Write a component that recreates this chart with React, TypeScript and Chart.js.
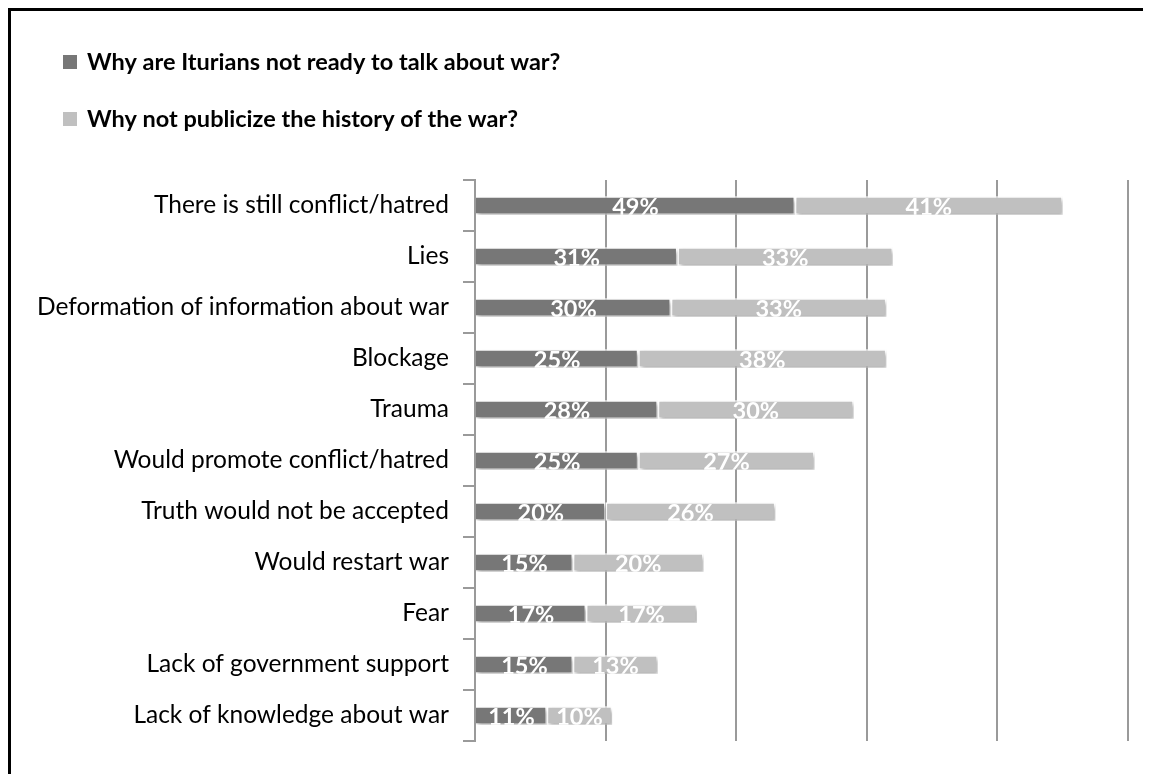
import React, { useEffect, useRef } from "react";
import { Chart, registerables } from "chart.js";

Chart.register(...registerables);

const categories = [
  "There is still conflict/hatred",
  "Lies",
  "Deformation of information about war",
  "Blockage",
  "Trauma",
  "Would promote conflict/hatred",
  "Truth would not be accepted",
  "Would restart war",
  "Fear",
  "Lack of government support",
  "Lack of knowledge about war",
];
const notReadyValues = [49, 31, 30, 25, 28, 25, 20, 15, 17, 15, 11];
const notPublicizeValues = [41, 33, 33, 38, 30, 27, 26, 20, 17, 13, 10];
const seriesNames = [
  "Why are Iturians not ready to talk about war?",
  "Why not publicize the history of the war?",
];
const seriesColors = ["#777777", "#c0c0c0"];
const xMin = 0;
const xMax = 100;
const xStep = 20;

const FONT = "Lato, 'Open Sans', sans-serif";

const barDecorPlugin = {
  id: "barDecor",
  beforeDatasetsDraw(chart: any) {
    const ctx = chart.ctx;
    ctx.save();
    ctx.shadowColor = "rgba(0,0,0,0.3)";
    ctx.shadowBlur = 4;
    ctx.shadowOffsetX = 2;
    ctx.shadowOffsetY = 3;
  },
  afterDatasetsDraw(chart: any) {
    const ctx = chart.ctx;
    ctx.restore();
    ctx.save();
    ctx.font = `bold 23.5px ${FONT}`;
    ctx.fillStyle = "#ffffff";
    ctx.textAlign = "center";
    ctx.textBaseline = "alphabetic";
    chart.data.datasets.forEach((ds: any, i: number) => {
      const meta = chart.getDatasetMeta(i);
      meta.data.forEach((bar: any, j: number) => {
        const p = bar.getProps(["x", "y", "base", "height"], true);
        const left = Math.min(p.x, p.base);
        const right = Math.max(p.x, p.base);
        const top = p.y - p.height / 2;
        ctx.save();
        ctx.beginPath();
        ctx.rect(left, top, right - left, p.height);
        ctx.clip();
        ctx.fillText(`${ds.data[j]}%`, (left + right) / 2, p.y + p.height / 2 + 0.5);
        ctx.restore();
      });
    });
    ctx.restore();
  },
};

const legendPlugin = {
  id: "stackLegend",
  afterDraw(chart: any) {
    const ctx = chart.ctx;
    ctx.save();
    ctx.font = `bold 23.5px ${FONT}`;
    ctx.textAlign = "left";
    ctx.textBaseline = "alphabetic";
    chart.data.datasets.forEach((ds: any, i: number) => {
      const boxY = 44 + i * 57;
      ctx.fillStyle = ds.backgroundColor;
      ctx.fillRect(52, boxY, 14, 14);
      ctx.fillStyle = "#000000";
      ctx.fillText(ds.label, 76, boxY + 15);
    });
    ctx.restore();
  },
};

export default function App() {
  const canvasRef = useRef<HTMLCanvasElement | null>(null);

  useEffect(() => {
    if (!canvasRef.current) return;
    Chart.defaults.font.family = FONT;
    const chart = new Chart(canvasRef.current, {
      type: "bar",
      data: {
        labels: categories,
        datasets: [
          {
            label: seriesNames[0],
            data: notReadyValues,
            backgroundColor: seriesColors[0],
            borderColor: "#ffffff",
            borderWidth: 1.5,
            borderSkipped: "start",
            barPercentage: 0.36,
            categoryPercentage: 1,
          },
          {
            label: seriesNames[1],
            data: notPublicizeValues,
            backgroundColor: seriesColors[1],
            borderColor: "#ffffff",
            borderWidth: 1.5,
            borderSkipped: false,
            barPercentage: 0.36,
            categoryPercentage: 1,
          },
        ],
      },
      options: {
        indexAxis: "y",
        responsive: false,
        animation: false,
        layout: { padding: { top: 169, right: 23, bottom: 33, left: 0 } },
        plugins: {
          legend: { display: false },
          tooltip: { enabled: false },
        },
        scales: {
          x: {
            type: "linear",
            stacked: true,
            min: xMin,
            max: xMax,
            ticks: { stepSize: xStep, display: false },
            grid: { color: "#9a9a9a", lineWidth: 2, drawTicks: false },
            border: { display: false },
          },
          y: {
            type: "category",
            stacked: true,
            grid: {
              offset: true,
              drawOnChartArea: false,
              drawTicks: true,
              tickLength: 12,
              color: "#9a9a9a",
              lineWidth: 2,
            },
            border: { display: true, color: "#9a9a9a", width: 2 },
            ticks: {
              color: "#000000",
              padding: 14,
              font: { family: FONT, size: 24.5 },
            },
            afterFit: (scale: any) => {
              scale.width = 464;
            },
          },
        },
      },
      plugins: [barDecorPlugin, legendPlugin],
    } as any);
    return () => chart.destroy();
  }, []);

  return (
    <div
      style={{
        boxSizing: "border-box",
        width: 1143,
        height: 766,
        borderTop: "3px solid #000",
        borderLeft: "3px solid #000",
        background: "#fff",
        overflow: "hidden",
      }}
    >
      <canvas ref={canvasRef} width={1140} height={763} style={{ display: "block" }} />
    </div>
  );
}
